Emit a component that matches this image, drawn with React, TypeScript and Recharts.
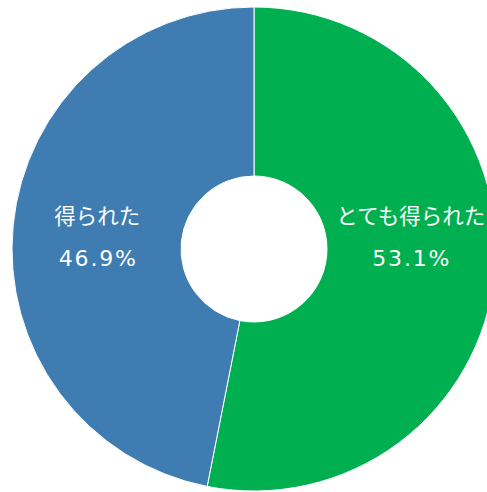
import React from "react";
import { PieChart, Pie, Cell } from "recharts";

const categories = ["とても得られた", "得られた"];
const values = [53.1, 46.9];
const colors = ["#00AF50", "#3E7CB1"];

const data = categories.map((name, i) => ({ name, value: values[i] }));

const RADIAN = Math.PI / 180;

const renderLabel = (props: any) => {
  const { cx, cy, midAngle, innerRadius, outerRadius, index } = props;
  const r = (innerRadius + outerRadius) / 2;
  const x = cx + r * Math.cos(-midAngle * RADIAN);
  const y = cy - 13;
  return (
    <g>
      <text
        x={x}
        y={y - 22}
        fill="#ffffff"
        textAnchor="middle"
        dominantBaseline="central"
        fontSize={21.5}
        fontFamily="'Noto Sans CJK JP', sans-serif"
      >
        {categories[index]}
      </text>
      <text
        x={x + 1}
        y={y + 22}
        fill="#ffffff"
        textAnchor="middle"
        dominantBaseline="central"
        fontSize={22}
        letterSpacing={1.8}
        fontFamily="'DejaVu Sans', sans-serif"
      >
        {values[index].toFixed(1)}%
      </text>
    </g>
  );
};

export default function App() {
  return (
    <div style={{ position: "absolute", left: 0, top: 0, width: 487, height: 492, background: "#fff" }}>
      <PieChart width={487} height={492} margin={{ top: 0, right: 0, bottom: 0, left: 0 }}>
        <Pie
          data={data}
          dataKey="value"
          nameKey="name"
          cx={254}
          cy={249}
          innerRadius={73}
          outerRadius={242}
          startAngle={90}
          endAngle={-270}
          stroke="#ffffff"
          strokeWidth={1}
          label={renderLabel}
          labelLine={false}
          isAnimationActive={false}
        >
          {data.map((d, i) => (
            <Cell key={d.name} fill={colors[i]} />
          ))}
        </Pie>
      </PieChart>
    </div>
  );
}
